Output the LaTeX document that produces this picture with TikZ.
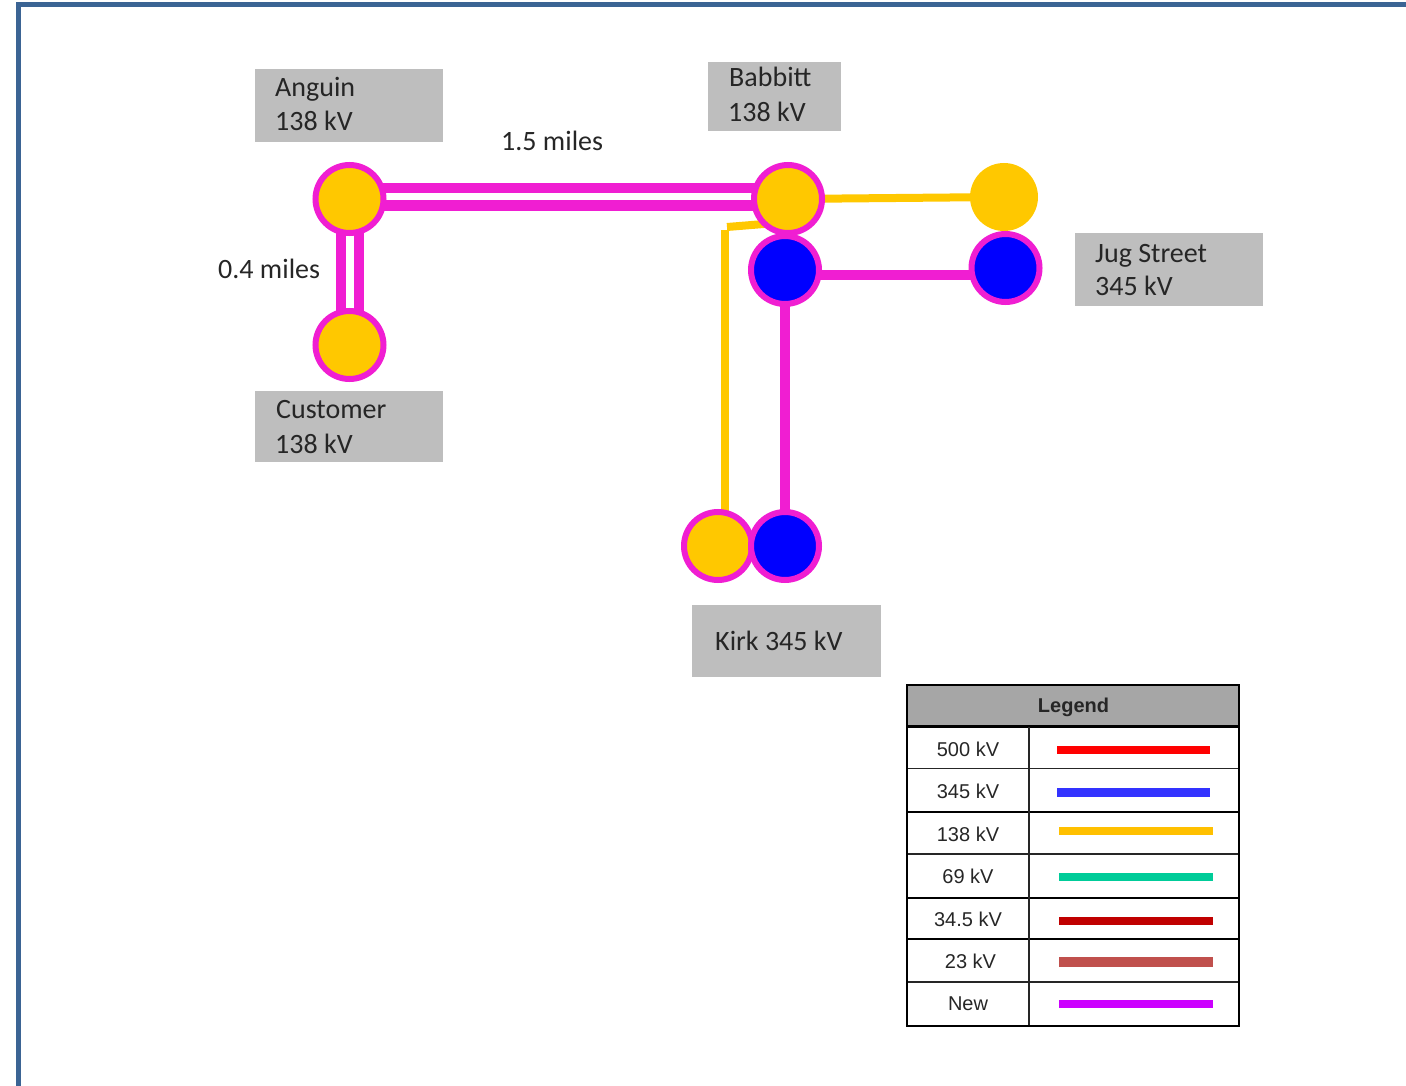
\documentclass[tikz,border=0pt]{standalone}
\usepackage{fontspec}
\setmainfont{Carlito}
\newfontfamily\legendfont{Liberation Sans}
\usetikzlibrary{backgrounds}
\definecolor{framecol}{HTML}{3B6494}
\definecolor{pinkline}{HTML}{F01ED2}
\definecolor{ambercol}{HTML}{FFC800}
\definecolor{bluecol}{HTML}{0000FF}
\definecolor{labelgray}{HTML}{BEBEBE}
\definecolor{headgray}{HTML}{A6A6A6}
\definecolor{leg345}{HTML}{3333FF}
\definecolor{leg138}{HTML}{FFC000}
\definecolor{leg69}{HTML}{00CC99}
\definecolor{leg34}{HTML}{C00000}
\definecolor{leg23}{HTML}{C0504D}
\definecolor{legnew}{HTML}{CC00FF}
\tikzset{
  x=1pt,y=-1pt,
  bus/.style={circle,draw=pinkline,line width=6pt,minimum size=68pt,inner sep=0pt,fill=#1},
  plainbus/.style={circle,minimum size=68pt,inner sep=0pt,fill=ambercol},
  lbltext/.style={anchor=base west,inner sep=0pt,font=\fontsize{28}{28}\selectfont,text=black!85},
  pinkw/.style={draw=pinkline,line width=#1},
  pinkw/.default=10pt,
  amberw/.style={draw=ambercol,line width=8pt},
  legtext/.style={inner sep=0pt,font=\legendfont\fontsize{20}{20}\selectfont,text=black!85},
  thick rule/.style={line width=2.6pt,draw=black},
  thin rule/.style={line width=1.4pt,draw=black!85}
}
\begin{document}
\begin{tikzpicture}
\useasboundingbox (0,0) rectangle (1406,1086);
% frame
\draw[framecol,line width=5pt] (18.5,1090) -- (18.5,5) -- (1410,5);
% gray labels
\fill[labelgray] (255,69) rectangle (443,142);
\fill[labelgray] (708,62) rectangle (841,131);
\fill[labelgray] (1075,233) rectangle (1263,306);
\fill[labelgray] (255,391) rectangle (443,462);
\fill[labelgray] (692,605) rectangle (881,677);
\node[lbltext] (tAng1) at (275,97) {Anguin};
\node[lbltext] (tAng2) at (275,131) {138 kV};
\node[lbltext] (tBab1) at (729,87) {Babbitt};
\node[lbltext] (tBab2) at (728,122) {138 kV};
\node[lbltext] (tJug1) at (1095,262) {Jug Street};
\node[lbltext] (tJug2) at (1095,295) {345 kV};
\node[lbltext] (tCus1) at (276,418) {Customer};
\node[lbltext] (tCus2) at (275,453) {138 kV};
\node[lbltext] (tKirk) at (715,650) {Kirk 345 kV};
\node[lbltext] (tMi1) at (501,151) {1.5 miles};
\node[lbltext] (tMi2) at (218,279) {0.4 miles};
% buses
\node[bus=bluecol] (babB) at (785,270) {};
\node[bus=ambercol] (bab) at (788,199) {};
\node[bus=ambercol] (ang) at (349.5,199) {};
\node[bus=ambercol] (cus) at (349.5,345) {};
\node[plainbus] (jugY) at (1004,197) {};
\node[bus=bluecol] (jugB) at (1005.5,268) {};
\node[bus=ambercol] (kirkY) at (718,546) {};
\node[bus=bluecol] (kirkB) at (785,546) {};
\coordinate (stubL) at (727,227);
\coordinate (stubR) at (770,223.5);
\coordinate (dropTop) at (725,230);
\begin{pgfonlayer}{background}
\draw[pinkw] ([yshift=10.5pt]ang.center) -- ([yshift=10.5pt]ang.center -| bab.center);
\draw[pinkw=11pt] ([yshift=-6.5pt]ang.center) -- ([yshift=-6.5pt]ang.center -| bab.center);
\draw[pinkw] ([xshift=-8.5pt]ang.center) -- ([xshift=-8.5pt]cus.center);
\draw[pinkw] ([xshift=9.5pt]ang.center) -- ([xshift=9.5pt]cus.center);
\draw[pinkw] ([yshift=-5pt]babB.center) -- ([yshift=-5pt]babB.center -| jugB.center);
\draw[pinkw] (babB.center) -- (babB.center |- kirkB.center);
\draw[amberw] (bab.center) -- (jugY.center);
\draw[amberw] (stubL) -- (stubR);
\draw[amberw] (dropTop) -- (dropTop |- kirkY.center);
\end{pgfonlayer}
% legend
\fill[headgray] (907,685) rectangle (1239,726);
\foreach \yy in {768.5,854,982} \draw[thin rule] (907,\yy) -- (1239,\yy);
\foreach \yy in {811.5,897.5,938.5} \draw[thick rule,line width=2pt] (907,\yy) -- (1239,\yy);
\draw[thick rule] (907,726.5) -- (1239,726.5);
\draw[thin rule] (1029,727) -- (1029,1026);
\draw[thick rule] (907,685) rectangle (1239,1026);
\node[legtext,font=\legendfont\bfseries\fontsize{20}{20}\selectfont] (lh) at (1073.5,707) {Legend};
\node[legtext] (l1) at (968,749) {500 kV};
\node[legtext] (l2) at (968,791) {345 kV};
\node[legtext] (l3) at (968,834) {138 kV};
\node[legtext] (l4) at (968,876) {69 kV};
\node[legtext] (l5) at (968,919) {34.5 kV};
\node[legtext] (l6) at (970.5,961) {23 kV};
\node[legtext] (l7) at (968,1004) {New};
\fill[red] (1057,746) rectangle (1210,754);
\fill[leg345] (1057,788) rectangle (1210,797);
\fill[leg138] (1059,827) rectangle (1213,835);
\fill[leg69] (1059,873) rectangle (1213,881);
\fill[leg34] (1059,917) rectangle (1213,925);
\fill[leg23] (1059,957) rectangle (1213,967);
\fill[legnew] (1059,1000) rectangle (1213,1008);
\end{tikzpicture}
\end{document}
